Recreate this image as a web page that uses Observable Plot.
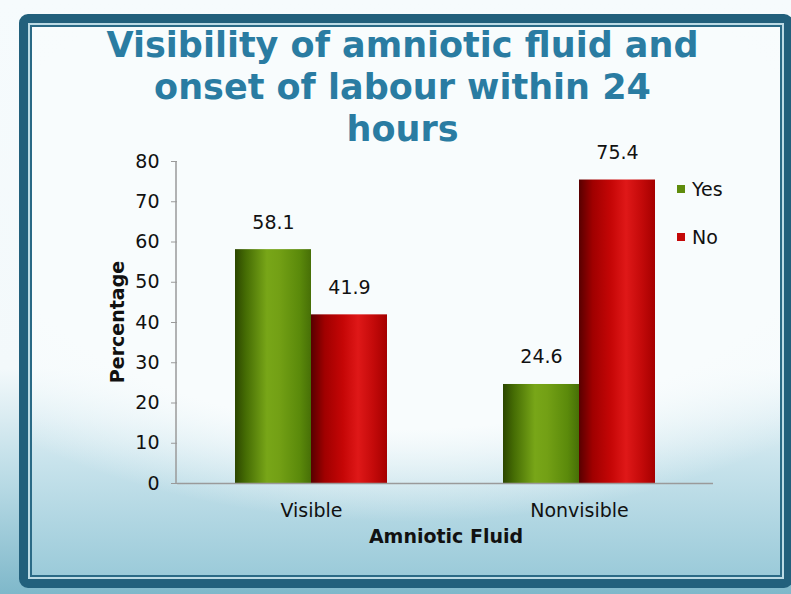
<!DOCTYPE html>
<html>
<head>
<meta charset="utf-8">
<script src="https://cdn.jsdelivr.net/npm/d3@7"></script>
<script src="https://cdn.jsdelivr.net/npm/@observablehq/plot@0.6"></script>
<style>
  html, body { margin: 0; padding: 0; }
  body {
    width: 791px; height: 594px; overflow: hidden; position: relative;
    background: linear-gradient(180deg, #f6fbfd 0%, #f3f9fb 62%, #b6d9e4 82%, #7fb8ca 100%);
    font-family: "DejaVu Sans", Verdana, sans-serif;
  }
  #frame {
    position: absolute; left: 19px; top: 14px; width: 756px; height: 556px;
    border: 9px solid #22607c; border-radius: 9px;
  }
  #panel {
    position: absolute; left: 0; top: 0; right: 0; bottom: 0;
    border: 2px solid #bcdbe5;
    box-shadow: inset 0 0 0 2px #2a6a86;
    background:
      radial-gradient(ellipse 78% 60% at 50% 30%, rgba(248,252,253,1) 72%, rgba(248,252,253,0) 100%),
      linear-gradient(180deg, #f8fcfd 0%, #f4fafc 62%, #c6e2eb 80%, #9acad9 100%);
  }
  #title {
    position: absolute; left: 0; width: 805px; top: 24px; text-align: center;
    font-family: "DejaVu Sans", Verdana, sans-serif; font-weight: bold;
    font-size: 35px; line-height: 42px; color: #2a7ca2;
  }
  #chart { position: absolute; left: 0; top: 140px; }
  .lbl { position: absolute; color: #111; font-family: "DejaVu Sans", Verdana, sans-serif; font-weight: bold; font-size: 19px; white-space: nowrap; }
  #ylab { left: 117px; top: 322px; transform: translate(-50%, -50%) rotate(-90deg); }
  #xlab { left: 446px; top: 536px; transform: translate(-50%, -50%); }
  .leg { position: absolute; font-family: "DejaVu Sans", Verdana, sans-serif; font-size: 19px; color: #111; white-space: nowrap; }
  .leg i { display: inline-block; width: 8px; height: 8px; margin-right: 7px; vertical-align: 3px; }
</style>
</head>
<body>
<div id="frame"><div id="panel"></div></div>
<div id="title">Visibility of amniotic fluid and<br>onset of labour within 24<br>hours</div>
<div id="chart"></div>
<div class="lbl" id="ylab">Percentage</div>
<div class="lbl" id="xlab">Amniotic Fluid</div>
<div class="leg" style="left:677px; top:178px;"><i style="background:#5f8c0c"></i>Yes</div>
<div class="leg" style="left:677px; top:226px;"><i style="background:#c40808"></i>No</div>
<script>
// ---- data ----
const categories = ["Visible", "Nonvisible"];
const seriesNames = ["Yes", "No"];
const yesValues = [58.1, 24.6];
const noValues = [41.9, 75.4];
const yTicks = [0, 10, 20, 30, 40, 50, 60, 70, 80];

const rows = [];
categories.forEach((c, i) => {
  rows.push({category: c, series: "Yes", value: yesValues[i]});
  rows.push({category: c, series: "No", value: noValues[i]});
});

const plot = Plot.plot({
  width: 791,
  height: 413,
  marginLeft: 176,
  marginRight: 78,
  marginTop: 21,
  marginBottom: 70,
  style: {background: "transparent", fontFamily: "DejaVu Sans, Verdana, sans-serif", fontSize: "19px", color: "#111"},
  fx: {domain: categories, padding: 0, label: null},
  x: {domain: seriesNames, paddingInner: 0, paddingOuter: 0.75, axis: null},
  y: {domain: [0, 80], label: null},
  color: {domain: seriesNames, range: ["url(#gradYes)", "url(#gradNo)"]},
  marks: [
    Plot.axisY({ticks: yTicks, tickSize: 6, tickPadding: 12, stroke: "#9a9a9a", tickFormat: d => d, label: null, fontSize: 19}),
    Plot.axisFx({anchor: "bottom", tickSize: 0, tickPadding: 20, label: null, fontSize: 19}),
    Plot.barY(rows, {fx: "category", x: "series", y: "value", fill: "series"}),
    Plot.ruleY([0], {stroke: "#9a9a9a", strokeWidth: 1.5}),
    Plot.text(rows, {fx: "category", x: "series", y: "value", text: d => d.value.toFixed(1), lineAnchor: "bottom", dy: -21, fontSize: 19, fill: "#111"})
  ]
});

const svg = d3.select(plot);
const defs = svg.insert("defs", ":first-child");
function grad(id, stops) {
  const g = defs.append("linearGradient").attr("id", id).attr("x1", "0%").attr("x2", "100%").attr("y1", "0%").attr("y2", "0%");
  stops.forEach(([o, c]) => g.append("stop").attr("offset", o).attr("stop-color", c));
}
grad("gradYes", [["0%", "#2c4600"], ["14%", "#456c04"], ["42%", "#78a618"], ["58%", "#73a015"], ["85%", "#5b8a0b"], ["100%", "#476f07"]]);
grad("gradNo", [["0%", "#580000"], ["18%", "#a00000"], ["42%", "#c50606"], ["62%", "#df1818"], ["82%", "#c40a0a"], ["100%", "#a50000"]]);

// y-axis domain line drawn through the y scale
const ys = plot.scale("y");
svg.append("line")
  .attr("x1", 176).attr("x2", 176)
  .attr("y1", ys.apply(0)).attr("y2", ys.apply(80))
  .attr("stroke", "#9a9a9a").attr("stroke-width", 1.5);

document.getElementById("chart").appendChild(plot);
</script>
</body>
</html>
